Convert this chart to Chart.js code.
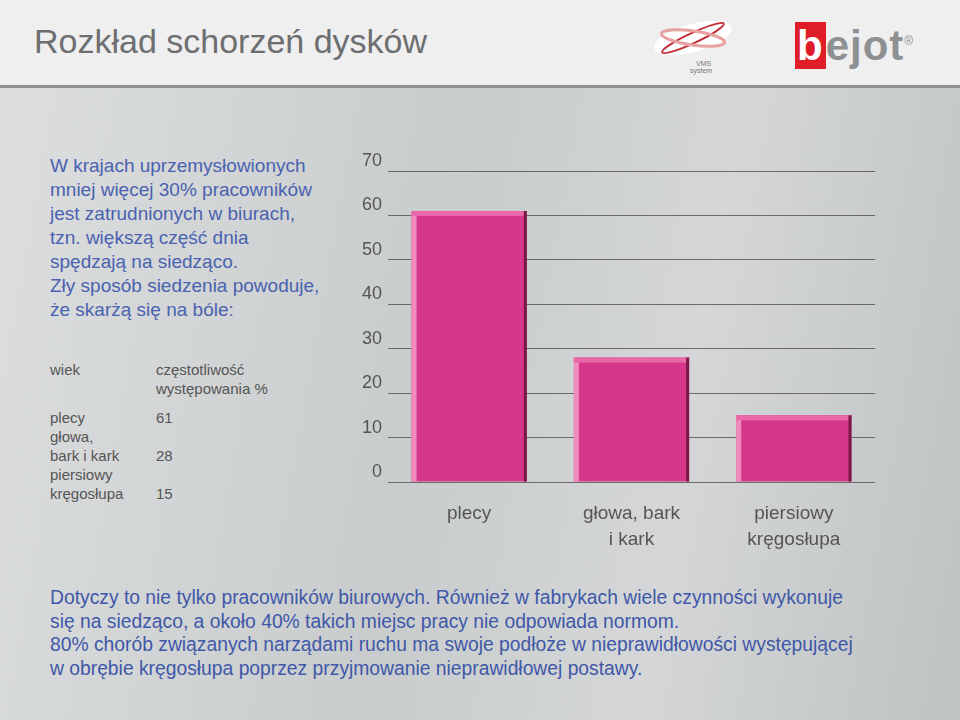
<!DOCTYPE html>
<html>
<head>
<meta charset="utf-8">
<script src="https://cdn.jsdelivr.net/npm/chart.js@4"></script>
<style>
  body { margin: 0; width: 960px; height: 720px; overflow: hidden; font-family: "Liberation Sans", Arial, sans-serif;
    background: linear-gradient(100deg, #dcdedf 0%, #c9cccd 45%, #d4d6d7 70%, #bfc2c3 100%); position: relative; }
  #header { position: absolute; left: 0; top: 0; width: 960px; height: 85px; background: #efefef; border-bottom: 3px solid #8f9192; }
  #title { position: absolute; left: 34px; top: 22px; font-size: 34px; color: #6d6e70; }
  #intro { position: absolute; left: 50px; top: 154px; font-size: 19px; line-height: 24px; color: #4a62b0; }
  .tbl { position: absolute; font-size: 15px; line-height: 19px; color: #555; }
  #outro { position: absolute; left: 50px; top: 586px; font-size: 19.3px; line-height: 23.5px; color: #3f58a8; white-space: nowrap; }
  #c { position: absolute; left: 340px; top: 140px; }
  #bejot { position: absolute; left: 795px; top: 22px; font-size: 42px; font-weight: bold; color: #8f9092; letter-spacing: 1px; }
  #bejot b { background: #e01e2a; color: #fff; padding: 0 2px; }
</style>
</head>
<body>
<div id="header">
  <div id="title">Rozkład schorzeń dysków</div>
  <svg style="position:absolute;left:648px;top:8px" width="100" height="70">
    <ellipse cx="45" cy="30" rx="40" ry="14" fill="#fff" transform="rotate(-15 45 30)"/>
    <ellipse cx="45" cy="30" rx="34" ry="5" fill="none" stroke="#c4303a" stroke-width="2" transform="rotate(-25 45 30)"/>
    <ellipse cx="45" cy="30" rx="32" ry="7" fill="none" stroke="#e8a0a0" stroke-width="3" transform="rotate(8 45 30)"/>
    <text x="48" y="58" font-size="7" fill="#777" font-family="Liberation Sans">VMS</text>
    <text x="42" y="65" font-size="7" fill="#777" font-family="Liberation Sans">system</text>
  </svg>
  <div id="bejot"><b>b</b>ejot<sup style="font-size:12px;font-weight:normal">®</sup></div>
</div>

<div id="intro">W krajach uprzemysłowionych<br>mniej więcej 30% pracowników<br>jest zatrudnionych w biurach,<br>tzn. większą część dnia<br>spędzają na siedząco.<br>Zły sposób siedzenia powoduje,<br>że skarżą się na bóle:</div>

<div class="tbl" style="left:50px;top:360px">wiek</div>
<div class="tbl" style="left:156px;top:360px">częstotliwość<br>występowania %</div>
<div class="tbl" style="left:50px;top:408px">plecy<br>głowa,<br>bark i kark<br>piersiowy<br>kręgosłupa</div>
<div class="tbl" style="left:156px;top:408px">61<br><br>28<br><br>15</div>

<canvas id="c" width="535" height="420"></canvas>

<div id="outro">Dotyczy to nie tylko pracowników biurowych. Również w fabrykach wiele czynności wykonuje<br>się na siedząco, a około 40% takich miejsc pracy nie odpowiada normom.<br>80% chorób związanych narządami ruchu ma swoje podłoże w nieprawidłowości występującej<br>w obrębie kręgosłupa poprzez przyjmowanie nieprawidłowej postawy.</div>

<script>
const categories = [["plecy"], ["głowa, bark", "i kark"], ["piersiowy", "kręgosłupa"]];
const values = [61, 28, 15];
const yTicks = [0, 10, 20, 30, 40, 50, 60, 70];

// light left/top edge, dark right edge, like the bevelled bars in the picture
const bevel = {
  id: "bevel",
  afterDatasetsDraw(chart) {
    const ctx = chart.ctx;
    chart.getDatasetMeta(0).data.forEach(bar => {
      const l = bar.x - bar.width / 2, r = bar.x + bar.width / 2, t = bar.y, b = bar.base;
      ctx.save();
      ctx.fillStyle = "#f08cbc";
      ctx.fillRect(l, t, 5, b - t);
      ctx.fillStyle = "#e868a8";
      ctx.fillRect(l, t, r - l, 5);
      ctx.fillStyle = "#7a1848";
      ctx.fillRect(r - 3, t, 3, b - t);
      ctx.restore();
    });
  }
};

new Chart(document.getElementById("c"), {
  type: "bar",
  data: {
    labels: categories,
    datasets: [{ data: values, backgroundColor: "#d6378a", barPercentage: 0.71, categoryPercentage: 1 }]
  },
  plugins: [bevel],
  options: {
    responsive: false,
    animation: false,
    layout: { padding: { top: 31 } },
    plugins: { legend: { display: false }, tooltip: { enabled: false } },
    scales: {
      x: {
        grid: { display: false },
        border: { display: false },
        ticks: { color: "#555", font: { size: 19, family: "Liberation Sans", lineHeight: 1.4 }, padding: 10 },
        afterFit: s => { s.height = 78; }
      },
      y: {
        min: 0, max: 70,
        afterBuildTicks: s => { s.ticks = yTicks.map(v => ({ value: v })); },
        grid: { color: "#6a6a6a", lineWidth: 1, drawTicks: false },
        border: { display: false },
        ticks: { color: "#555", font: { size: 18, family: "Liberation Sans" }, labelOffset: -10, padding: 6 },
        afterFit: s => { s.width = 48; }
      }
    }
  }
});
</script>
</body>
</html>
